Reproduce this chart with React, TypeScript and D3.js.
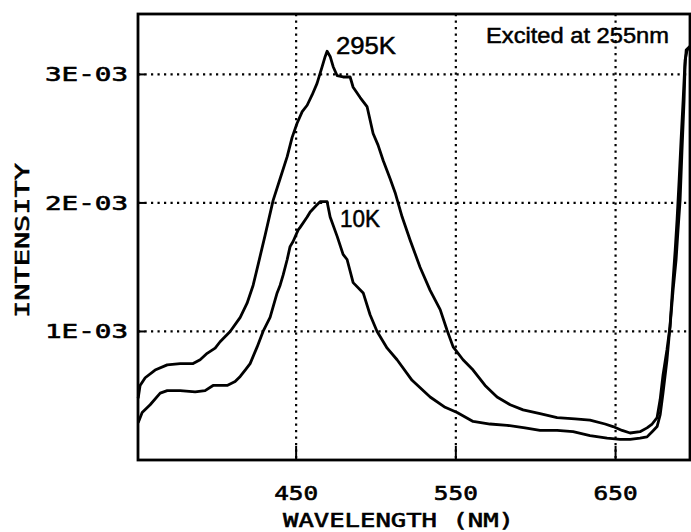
import { useEffect, useRef } from "react";
import * as d3 from "d3";

// wavelength (nm) and intensity (x1E-03)
const wl295 = [351.1, 352.3, 355.5, 361.7, 369.3, 377.4, 385.5, 389.9, 394.3, 399.3, 402.4, 408.7, 415.0, 419.3, 423.1, 426.2, 430.6, 435.6, 440.0, 444.4, 447.5, 450.6, 453.8, 456.9, 460.0, 463.1, 466.3, 468.2, 469.4, 471.3, 473.2, 475.7, 479.4, 483.8, 485.7, 490.1, 494.4, 498.2, 501.3, 504.5, 508.8, 512.0, 516.4, 521.4, 527.6, 533.9, 540.2, 544.5, 548.3, 554.5, 560.8, 568.3, 575.8, 584.0, 592.1, 602.7, 613.4, 624.6, 634.0, 643.4, 648.4, 654.1, 659.1, 665.3, 669.7, 672.9, 676.0, 677.9, 679.7, 682.2, 684.1, 686.0, 687.3, 688.5, 689.8, 691.0, 692.3, 693.5, 694.8, 696.6];
const int295 = [0.48, 0.58, 0.64, 0.70, 0.74, 0.75, 0.75, 0.78, 0.83, 0.87, 0.92, 1.00, 1.11, 1.22, 1.36, 1.52, 1.75, 2.02, 2.19, 2.36, 2.51, 2.62, 2.71, 2.76, 2.84, 2.93, 3.06, 3.14, 3.18, 3.14, 3.06, 2.99, 2.98, 2.98, 2.90, 2.82, 2.75, 2.54, 2.45, 2.33, 2.19, 2.08, 1.89, 1.71, 1.50, 1.32, 1.17, 1.01, 0.88, 0.78, 0.70, 0.58, 0.49, 0.43, 0.39, 0.36, 0.33, 0.32, 0.31, 0.28, 0.26, 0.23, 0.21, 0.22, 0.25, 0.28, 0.33, 0.47, 0.66, 0.86, 1.04, 1.40, 1.63, 1.87, 2.18, 2.49, 2.80, 3.11, 3.19, 3.21];

const wl10 = [351.1, 353.6, 358.6, 364.9, 369.3, 377.4, 386.8, 393.0, 398.0, 406.8, 411.8, 415.0, 418.1, 421.2, 425.6, 429.3, 433.7, 438.1, 440.0, 441.9, 444.4, 446.2, 448.1, 451.3, 452.5, 456.9, 458.8, 462.6, 465.0, 469.4, 471.3, 475.7, 479.4, 481.9, 485.7, 492.0, 496.3, 500.7, 507.0, 513.2, 522.6, 533.9, 543.3, 550.8, 560.8, 571.4, 582.1, 593.3, 602.7, 613.4, 623.4, 634.0, 644.7, 652.8, 659.1, 665.3, 669.7, 672.9, 676.0, 677.9, 679.7, 682.2, 684.1, 686.0, 687.9, 689.1, 690.4, 691.6, 692.9, 693.5, 694.2, 696.6];
const int10 = [0.29, 0.37, 0.43, 0.52, 0.54, 0.54, 0.53, 0.54, 0.58, 0.58, 0.61, 0.65, 0.70, 0.75, 0.88, 1.00, 1.11, 1.30, 1.36, 1.44, 1.56, 1.66, 1.70, 1.79, 1.81, 1.89, 1.93, 1.98, 2.01, 2.01, 1.89, 1.74, 1.60, 1.56, 1.38, 1.30, 1.13, 1.00, 0.87, 0.78, 0.62, 0.49, 0.41, 0.37, 0.30, 0.28, 0.27, 0.25, 0.23, 0.23, 0.22, 0.19, 0.17, 0.16, 0.16, 0.17, 0.18, 0.22, 0.26, 0.35, 0.52, 0.78, 1.04, 1.32, 1.56, 1.79, 2.02, 2.41, 2.80, 3.06, 3.19, 3.22];

const xTicks = [450, 550, 650];
const yTicks = [1e-3, 2e-3, 3e-3];
const yTickLabels = ["1E-03", "2E-03", "3E-03"];

function App() {
    const ref = useRef<SVGSVGElement>(null);

    useEffect(() => {
        drawChart();
    }, []);

    function drawChart() {
        const width = 691, height = 532;
        const margin = { top: 14, right: 1, bottom: 72, left: 138 };

        const svg = d3.select(ref.current);
        svg.selectAll("*").remove();

        const x = d3.scaleLinear()
            .domain([351, 696.6])
            .range([margin.left, width - margin.right]);

        const y = d3.scaleLinear()
            .domain([0, 3.47e-3])
            .range([height - margin.bottom, margin.top]);

        svg.append("rect")
            .attr("width", width)
            .attr("height", height)
            .attr("fill", "white");

        // dotted grid
        svg.append("g")
            .selectAll("line")
            .data(xTicks)
            .join("line")
            .attr("x1", d => x(d))
            .attr("x2", d => x(d))
            .attr("y1", margin.top)
            .attr("y2", height - margin.bottom)
            .attr("stroke", "#000")
            .attr("stroke-width", 2.2)
            .attr("stroke-dasharray", "2.2,4.3");

        svg.append("g")
            .selectAll("line")
            .data(yTicks)
            .join("line")
            .attr("x1", margin.left)
            .attr("x2", width - margin.right)
            .attr("y1", d => y(d))
            .attr("y2", d => y(d))
            .attr("stroke", "#000")
            .attr("stroke-width", 2.2)
            .attr("stroke-dasharray", "2.2,4.3");

        // short tick marks
        svg.append("g")
            .selectAll("line")
            .data(xTicks)
            .join("line")
            .attr("x1", d => x(d))
            .attr("x2", d => x(d))
            .attr("y1", height - margin.bottom)
            .attr("y2", height - margin.bottom - 14)
            .attr("stroke", "#000")
            .attr("stroke-width", 2);

        svg.append("g")
            .selectAll("line")
            .data(yTicks)
            .join("line")
            .attr("x1", margin.left)
            .attr("x2", margin.left + 7)
            .attr("y1", d => y(d))
            .attr("y2", d => y(d))
            .attr("stroke", "#000")
            .attr("stroke-width", 2);

        // the two spectra
        const line = d3.line<[number, number]>()
            .x(d => x(d[0]))
            .y(d => y(d[1] * 1e-3));

        const series = [
            d3.zip(wl295, int295) as [number, number][],
            d3.zip(wl10, int10) as [number, number][],
        ];

        svg.append("g")
            .selectAll("path")
            .data(series)
            .join("path")
            .attr("d", d => line(d))
            .attr("fill", "none")
            .attr("stroke", "#000")
            .attr("stroke-width", 2.8)
            .attr("stroke-linejoin", "round");

        // frame
        svg.append("rect")
            .attr("x", margin.left)
            .attr("y", margin.top)
            .attr("width", width - margin.right - margin.left)
            .attr("height", height - margin.bottom - margin.top)
            .attr("fill", "none")
            .attr("stroke", "#000")
            .attr("stroke-width", 2.8);

        const mono = "'DejaVu Sans Mono', monospace";
        const sans = "'Liberation Sans', Arial, sans-serif";

        // plotter-style labels: monospace glyphs stretched to the widths in the picture
        const plotText = (sel: any) => sel
            .attr("lengthAdjust", "spacingAndGlyphs")
            .attr("font-family", mono)
            .attr("font-size", 20)
            .attr("stroke", "#000")
            .attr("stroke-width", 0.6);

        svg.append("g")
            .selectAll("text")
            .data(xTicks)
            .join("text")
            .attr("x", d => x(d) - 22)
            .attr("y", 500)
            .attr("textLength", 44)
            .call(plotText)
            .text(d => d);

        svg.append("g")
            .selectAll("text")
            .data(yTicks)
            .join("text")
            .attr("x", 45)
            .attr("y", d => y(d) + 7)
            .attr("textLength", 83)
            .call(plotText)
            .text((d, i) => yTickLabels[i]);

        // axis titles
        svg.append("text")
            .attr("x", 283)
            .attr("y", 527)
            .attr("textLength", 231)
            .call(plotText)
            .text("WAVELENGTH (NM)");

        svg.append("text")
            .attr("transform", "translate(29,318) rotate(-90)")
            .attr("textLength", 155)
            .call(plotText)
            .text("INTENSITY");

        // annotations
        svg.append("text")
            .attr("x", 486)
            .attr("y", 43)
            .attr("textLength", 183)
            .attr("lengthAdjust", "spacingAndGlyphs")
            .attr("font-family", sans)
            .attr("font-size", 22)
            .attr("stroke", "#000")
            .attr("stroke-width", 0.5)
            .text("Excited at 255nm");

        svg.append("text")
            .attr("x", 336)
            .attr("y", 54)
            .attr("textLength", 60)
            .attr("lengthAdjust", "spacingAndGlyphs")
            .attr("font-family", sans)
            .attr("font-size", 24)
            .attr("stroke", "#000")
            .attr("stroke-width", 0.5)
            .text("295K");

        svg.append("text")
            .attr("x", 340)
            .attr("y", 227)
            .attr("textLength", 40)
            .attr("lengthAdjust", "spacingAndGlyphs")
            .attr("font-family", sans)
            .attr("font-size", 24)
            .attr("stroke", "#000")
            .attr("stroke-width", 0.5)
            .text("10K");
    }

    return (
        <svg
            ref={ref}
            width={691}
            height={532}
            style={{ position: "absolute", left: 0, top: 0 }}
        />
    );
}

export default App;
